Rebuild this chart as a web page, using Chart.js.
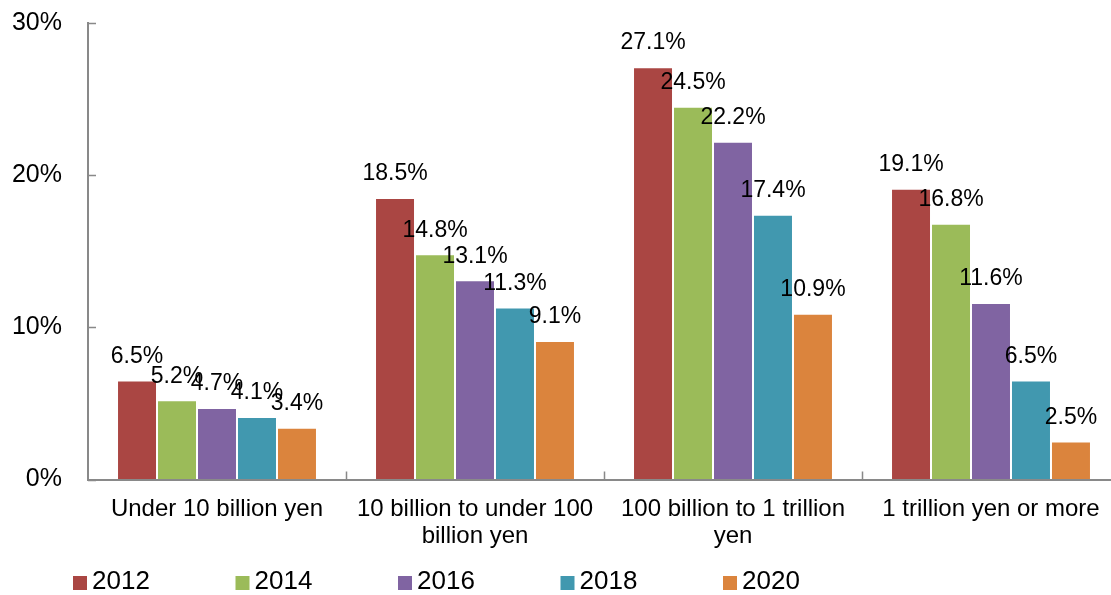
<!DOCTYPE html>
<html>
<head>
<meta charset="utf-8">
<script src="https://cdn.jsdelivr.net/npm/chart.js@4"></script>
<style>
  body { margin: 0; background: #fff; overflow: hidden; }
  /* the original plot runs a few pixels past the right edge of the picture */
  #wrap { width: 1120px; height: 595px; }
</style>
</head>
<body>
<div id="wrap"><canvas id="chart"></canvas></div>
<script>
// categories (multi-line labels as in the original)
const categories = [
    ['Under 10 billion yen'],
    ['10 billion to under 100', 'billion yen'],
    ['100 billion to 1 trillion', 'yen'],
    ['1 trillion yen or more']
];

// series values in percent
const years = ['2012', '2014', '2016', '2018', '2020'];
const values2012 = [6.5, 18.5, 27.1, 19.1];
const values2014 = [5.2, 14.8, 24.5, 16.8];
const values2016 = [4.7, 13.1, 22.2, 11.6];
const values2018 = [4.1, 11.3, 17.4, 6.5];
const values2020 = [3.4, 9.1, 10.9, 2.5];

// y axis ticks
const yTicks = [0, 10, 20, 30];

const colors = ['#AA4643', '#9BBB59', '#8064A2', '#4198AF', '#DB843D'];
const axisGray = '#898989';
const FONT = '"Liberation Sans", Arial, sans-serif';

// short tick marks pointing into the plot, like Excel's "inside" ticks
const insideTicks = {
    id: 'insideTicks',
    afterDraw(chart) {
        const { ctx, chartArea, scales } = chart;
        ctx.save();
        ctx.strokeStyle = axisGray;
        ctx.lineWidth = 1.5;
        ctx.beginPath();
        scales.y.ticks.forEach(t => {
            const y = Math.round(scales.y.getPixelForValue(t.value)) + 0.5;
            ctx.moveTo(chartArea.left, y);
            ctx.lineTo(chartArea.left + 8, y);
        });
        for (let i = 0; i < categories.length - 1; i++) {
            const x = Math.round((scales.x.getPixelForValue(i) + scales.x.getPixelForValue(i + 1)) / 2) + 0.5;
            ctx.moveTo(x, chartArea.bottom);
            ctx.lineTo(x, chartArea.bottom - 8);
        }
        ctx.stroke();
        ctx.restore();
    }
};

// draws the value above every bar
const barLabels = {
    id: 'barLabels',
    afterDatasetsDraw(chart) {
        const ctx = chart.ctx;
        ctx.save();
        ctx.font = '23px ' + FONT;
        ctx.fillStyle = '#000';
        ctx.textAlign = 'center';
        ctx.textBaseline = 'middle';
        chart.data.datasets.forEach((ds, i) => {
            chart.getDatasetMeta(i).data.forEach((bar, j) => {
                ctx.fillText(ds.data[j].toFixed(1) + '%', bar.x, bar.y - 24);
            });
        });
        ctx.restore();
    }
};

// legend row at the bottom, spaced like the original
const bottomLegend = {
    id: 'bottomLegend',
    afterDraw(chart) {
        const ctx = chart.ctx;
        ctx.save();
        ctx.font = '26px ' + FONT;
        ctx.textBaseline = 'middle';
        chart.data.datasets.forEach((ds, i) => {
            const x = 73 + i * 162.5;
            ctx.fillStyle = ds.backgroundColor;
            ctx.fillRect(x, 576, 14, 14);
            ctx.fillStyle = '#000';
            ctx.fillText(ds.label, x + 19, 582);
        });
        ctx.restore();
    }
};

const seriesValues = [values2012, values2014, values2016, values2018, values2020];

new Chart(document.getElementById('chart'), {
    type: 'bar',
    data: {
        labels: categories,
        datasets: years.map((y, i) => ({
            label: y,
            data: seriesValues[i],
            backgroundColor: colors[i],
            borderColor: 'rgba(255,255,255,0.45)',
            borderWidth: 1,
            barPercentage: 1,
            categoryPercentage: 0.775
        }))
    },
    options: {
        responsive: true,
        maintainAspectRatio: false,
        animation: false,
        layout: { padding: { top: 23, right: 0, bottom: 45.5, left: 0 } },
        plugins: {
            legend: { display: false },
            tooltip: { enabled: false }
        },
        scales: {
            x: {
                // the built-in ticks only make room for the labels; visible ticks come from insideTicks
                grid: { drawOnChartArea: false, tickLength: 17, tickColor: 'transparent' },
                border: { color: axisGray, width: 2 },
                ticks: { color: '#000', font: { family: FONT, size: 24, lineHeight: 1.1 }, padding: 0, maxRotation: 0 },
                afterFit(scale) { scale.height = 70; }
            },
            y: {
                min: 0,
                max: 30,
                afterBuildTicks(scale) { scale.ticks = yTicks.map(v => ({ value: v })); },
                grid: { drawOnChartArea: false, tickLength: 18, tickColor: 'transparent' },
                border: { color: axisGray, width: 2 },
                ticks: {
                    color: '#000',
                    font: { family: FONT, size: 25 },
                    padding: 8,
                    callback: v => v + '%'
                },
                afterFit(scale) { scale.width = 88; }
            }
        }
    },
    plugins: [barLabels, insideTicks, bottomLegend]
});
</script>
</body>
</html>
